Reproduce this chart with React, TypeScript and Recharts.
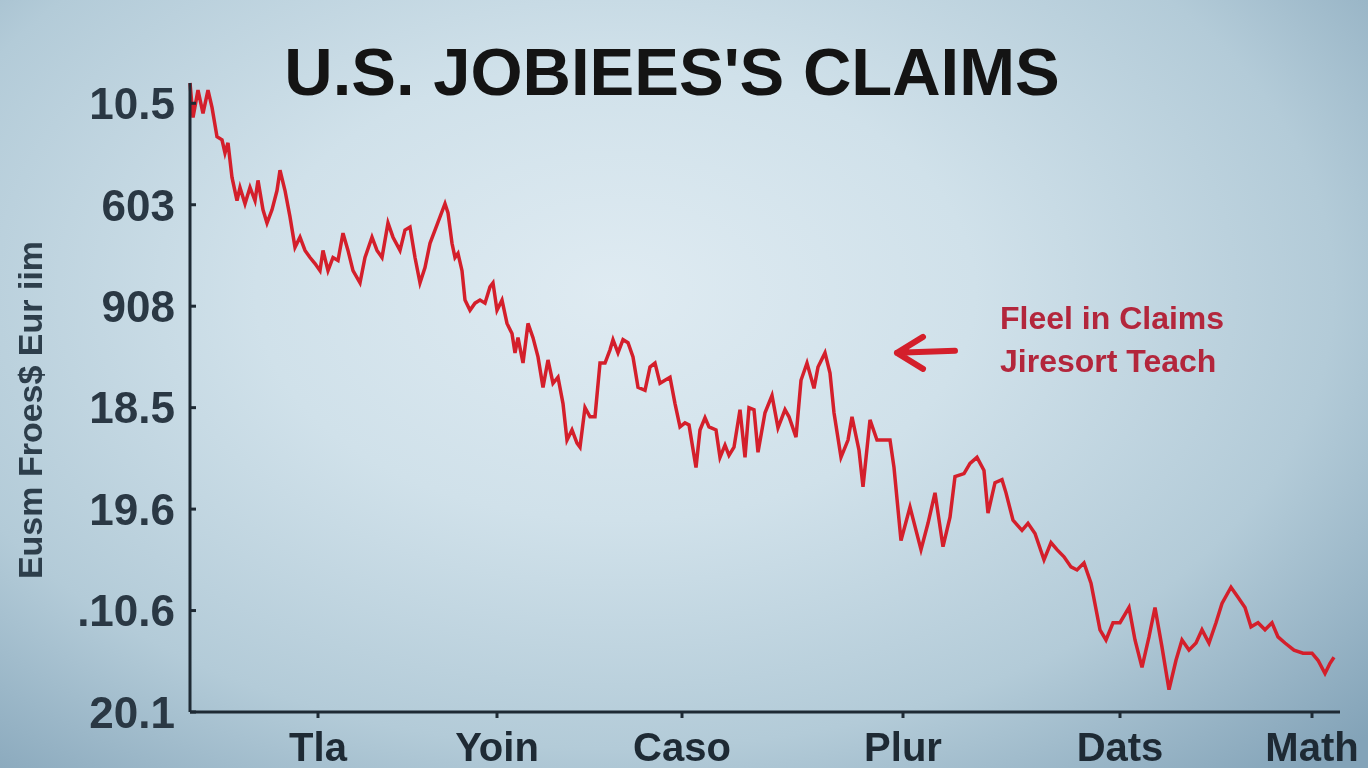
import { LineChart, Line, XAxis, YAxis, ReferenceDot } from "recharts";

// [week, level]
const claimPoints: [number, number][] = [
  [0, 6.2], [3, 5.86], [8, 6.13], [13, 5.9], [18, 6.13], [22, 5.96], [27, 5.67], [32, 5.64], [35, 5.51], [38, 5.61],
  [42, 5.27], [47, 5.04], [50, 5.17], [55, 5.01], [60, 5.17], [65, 5.04], [68, 5.24], [73, 4.95], [77, 4.82], [82, 4.95],
  [87, 5.14], [90, 5.34], [95, 5.14], [100, 4.88], [105, 4.58], [110, 4.68], [115, 4.55], [120, 4.48], [125, 4.42], [130, 4.35],
  [133, 4.55], [138, 4.35], [143, 4.48], [148, 4.45], [153, 4.72], [158, 4.55], [163, 4.35], [170, 4.23], [175, 4.48], [182, 4.68],
  [187, 4.55], [192, 4.48], [198, 4.82], [203, 4.68], [210, 4.55], [215, 4.75], [220, 4.78], [225, 4.48], [230, 4.23], [235, 4.38],
  [240, 4.62], [245, 4.75], [250, 4.88], [255, 5.01], [258, 4.92], [262, 4.62], [265, 4.48], [268, 4.52], [272, 4.35], [275, 4.06],
  [280, 3.96], [285, 4.03], [290, 4.06], [295, 4.03], [300, 4.19], [303, 4.23], [307, 3.96], [312, 4.06], [317, 3.83], [322, 3.73],
  [325, 3.54], [328, 3.69], [333, 3.44], [338, 3.83], [343, 3.69], [348, 3.5], [353, 3.2], [358, 3.47], [363, 3.24], [368, 3.3],
  [373, 3.04], [377, 2.68], [382, 2.78], [387, 2.65], [390, 2.61], [395, 3.0], [400, 2.91], [405, 2.91], [410, 3.44], [415, 3.44],
  [420, 3.57], [423, 3.67], [428, 3.54], [433, 3.67], [438, 3.64], [443, 3.5], [448, 3.2], [455, 3.17], [460, 3.4], [465, 3.44],
  [470, 3.24], [475, 3.27], [480, 3.3], [485, 3.04], [490, 2.81], [495, 2.85], [499, 2.83], [506, 2.41], [510, 2.78], [515, 2.9],
  [519, 2.81], [526, 2.78], [530, 2.51], [535, 2.63], [539, 2.53], [544, 2.61], [550, 2.98], [555, 2.51], [559, 3.0], [564, 2.98],
  [568, 2.56], [575, 2.95], [582, 3.12], [588, 2.8], [595, 2.98], [599, 2.91], [606, 2.71], [611, 3.27], [617, 3.44], [624, 3.19],
  [628, 3.4], [635, 3.54], [640, 3.34], [644, 2.95], [651, 2.51], [658, 2.68], [662, 2.91], [669, 2.58], [673, 2.22], [680, 2.88],
  [687, 2.68], [693, 2.68], [700, 2.68], [704, 2.41], [711, 1.69], [720, 2.02], [731, 1.6], [738, 1.86], [745, 2.16], [753, 1.63],
  [760, 1.92], [765, 2.32], [774, 2.35], [780, 2.45], [787, 2.51], [794, 2.38], [798, 1.96], [805, 2.26], [812, 2.29], [816, 2.16],
  [823, 1.89], [832, 1.79], [838, 1.86], [845, 1.76], [854, 1.5], [861, 1.67], [867, 1.6], [874, 1.53], [881, 1.43], [887, 1.4],
  [894, 1.47], [901, 1.27], [910, 0.81], [916, 0.71], [923, 0.88], [930, 0.88], [939, 1.03], [945, 0.71], [952, 0.44], [959, 0.74],
  [965, 1.03], [972, 0.64], [979, 0.22], [986, 0.51], [992, 0.71], [999, 0.61], [1006, 0.68], [1012, 0.81], [1019, 0.68], [1026, 0.88],
  [1032, 1.07], [1041, 1.23], [1048, 1.13], [1055, 1.03], [1061, 0.84], [1068, 0.88], [1075, 0.81], [1082, 0.88], [1088, 0.74], [1095, 0.68],
  [1104, 0.61], [1113, 0.58], [1122, 0.58], [1128, 0.51], [1135, 0.38], [1140, 0.48], [1144, 0.54],
];

const yTickValues = [0, 1, 2, 3, 4, 5, 6];
const yTickLabels = ["20.1", ".10.6", "19.6", "18.5", "908", "603", "10.5"];
const xTickValues = [128, 307, 492, 713, 930, 1122];
const xTickLabels = ["Tla", "Yoin", "Caso", "Plur", "Dats", "Math"];

const peak = { week: 635, level: 3.54 };
const noteLines = ["Fleel in Claims", "Jiresort Teach"];

const data = claimPoints.map(([week, level]) => ({ week, level }));

const FONT = "'Liberation Sans', Arial, sans-serif";
const INK = "#1e2a34";
const RED = "#d41f2b";

function YTick({ x, y, payload }: any) {
  const label = yTickLabels[yTickValues.indexOf(payload.value)];
  return (
    <g>
      <text x={x} y={y} dy="0.36em" textAnchor="end" fontFamily={FONT} fontWeight={700} fontSize={44} fill="#2a3844">
        {label}
      </text>
      <line x1={x + 15} x2={x + 21} y1={y} y2={y} stroke={INK} strokeWidth={3} />
    </g>
  );
}

function XTick({ x, y, payload }: any) {
  const label = xTickLabels[xTickValues.indexOf(payload.value)];
  return (
    <text x={x} y={y} dy="0.71em" textAnchor="middle" fontFamily={FONT} fontWeight={700} fontSize={40} fill={INK}>
      {label}
    </text>
  );
}

function Callout({ cx, cy }: any) {
  const tip = cx + 72;
  return (
    <g>
      <path
        d={`M${tip} ${cy} L${tip + 58} ${cy - 2} M${tip} ${cy} L${tip + 26} ${cy - 16} M${tip} ${cy} L${tip + 26} ${cy + 16}`}
        stroke={RED}
        strokeWidth={6}
        strokeLinecap="round"
        fill="none"
      />
      {noteLines.map((t, i) => (
        <text key={t} x={cx + 175} y={cy - 24 + i * 43} fontFamily={FONT} fontWeight={700} fontSize={32} fill="#b3263c">
          {t}
        </text>
      ))}
    </g>
  );
}

export default function App() {
  return (
    <div
      style={{
        position: "fixed",
        left: 0,
        top: 0,
        width: 1368,
        height: 768,
        overflow: "hidden",
        background:
          "radial-gradient(ellipse 75% 85% at 45% 38%, #dfebf2 0%, #d0e1ea 35%, #b3cbd8 70%, #83a3b8 100%)",
      }}
    >
      <div
        style={{
          position: "absolute",
          left: 0,
          width: 1344,
          top: 38,
          textAlign: "center",
          fontFamily: FONT,
          fontWeight: 700,
          fontSize: 67,
          color: "#141414",
          lineHeight: 1,
        }}
      >
        U.S. JOBIEES'S CLAIMS
      </div>
      <div
        style={{
          position: "absolute",
          left: 30,
          top: 410,
          transform: "translate(-50%, -50%) rotate(-90deg)",
          whiteSpace: "nowrap",
          fontFamily: FONT,
          fontWeight: 700,
          fontSize: 34,
          color: "#2d3e4b",
        }}
      >
        Eusm Froes$ Eur iim
      </div>
      <div style={{ position: "absolute", left: 0, top: 0 }}>
        <LineChart width={1368} height={768} data={data} margin={{ top: 83, right: 28, bottom: 0, left: 0 }}>
          <XAxis
            dataKey="week"
            type="number"
            domain={[0, 1150]}
            ticks={xTickValues}
            height={56}
            stroke={INK}
            strokeWidth={3}
            tickSize={6}
            tickMargin={15}
            tick={<XTick />}
          />
          <YAxis
            type="number"
            domain={[0, 6.2]}
            ticks={yTickValues}
            width={190}
            stroke={INK}
            strokeWidth={3}
            tickLine={false}
            tickSize={0}
            tickMargin={15}
            tick={<YTick />}
          />
          <Line
            type="linear"
            dataKey="level"
            stroke={RED}
            strokeWidth={3.5}
            dot={false}
            isAnimationActive={false}
          />
          <ReferenceDot x={peak.week} y={peak.level} r={0} shape={<Callout />} />
        </LineChart>
      </div>
    </div>
  );
}
